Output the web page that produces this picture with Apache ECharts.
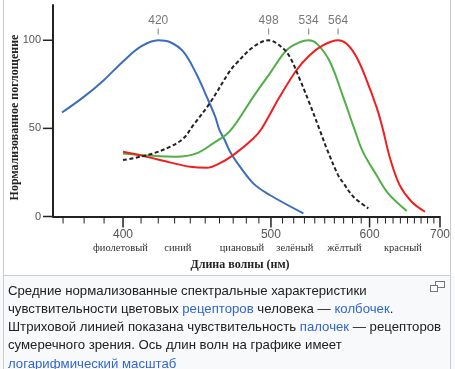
<!DOCTYPE html>
<html><head><meta charset="utf-8">
<script src="https://cdn.jsdelivr.net/npm/echarts@6/dist/echarts.min.js"></script>
<style>
html,body{margin:0;padding:0;background:#fff;}
#wrap{position:relative;width:455px;height:369px;overflow:hidden;background:#f8f9fa;}
#chart{position:absolute;left:0;top:0;width:455px;height:275px;background:#fff;}
#frame{position:absolute;left:3px;top:0;width:446px;height:369px;border-left:1px solid #c8ccd1;border-right:1px solid #c8ccd1;pointer-events:none;}
#sep{position:absolute;left:3px;top:275px;width:447px;height:1px;background:#c8ccd1;}
#cap{position:absolute;left:8px;top:281.5px;font-family:"Liberation Sans",Arial,sans-serif;font-size:13.2px;line-height:18.3px;color:#202122;white-space:nowrap;}
#cap a{color:#3366cc;text-decoration:none;}
#mag{position:absolute;left:430px;top:281px;}
</style></head>
<body>
<div id="wrap">
  <div id="chart"></div>
  <div id="sep"></div>
  <div id="frame"></div>
  <svg id="mag" width="15" height="11" viewBox="0 0 15 11"><rect x="5.5" y="0.5" width="9" height="6" fill="#fff" stroke="#777"/><rect x="0.5" y="4.5" width="7" height="6" fill="#fff" stroke="#777"/></svg>
  <div id="cap">Средние нормализованные спектральные характеристики<br>чувствительности цветовых <a>рецепторов</a> человека — <a>колбочек</a>.<br>Штриховой линией показана чувствительность <a>палочек</a> — рецепторов<br>сумеречного зрения. Ось длин волн на графике имеет<br><a>логарифмический масштаб</a></div>
</div>
<script>
// wavelengths (nm) and normalized absorption values
const blueL = [369.5, 380, 390, 400, 410, 420, 427, 435.5, 444, 451, 457, 460, 464, 467.5, 472.5, 485.5, 499, 529];
const blueV = [59, 68, 77.5, 88, 96.5, 100, 99, 93.5, 81, 68, 56.5, 49, 43, 37, 31, 18.8, 12.2, 1.8];
const rodL = [400, 409.5, 417, 427, 435.5, 442, 453, 467.5, 472.5, 485.5, 498, 509, 516.5, 526, 535, 545, 552, 564, 570, 581, 598.5];
const rodV = [32, 33.9, 35.8, 39.5, 44.3, 51.8, 64.1, 82.5, 87, 96.2, 100, 96.2, 90.5, 77.3, 64.1, 49, 38.6, 23.5, 18.8, 11.2, 4.6];
const greenL = [400, 417, 431, 444, 455.5, 467.5, 485.5, 499, 513.5, 526, 534, 542, 555, 569.5, 582.5, 592, 608.5, 623.5, 649];
const greenV = [35.8, 34.4, 33.9, 35.8, 41.5, 48.4, 67.9, 81.1, 94.3, 99, 100, 98.1, 88.2, 67.9, 49, 36.7, 23.5, 13.1, 3.1];
const redL = [400, 411, 427, 440, 451, 460, 470, 485.5, 492.5, 507.5, 522.5, 535, 548.5, 564, 573, 584.5, 596.5, 608.5, 616, 626, 639, 656, 676];
const redV = [36.7, 34.4, 30.7, 28.2, 27.6, 30.1, 34.8, 44.3, 50.1, 67.9, 83, 91.5, 97.2, 100, 98.1, 90.5, 77.3, 62.2, 50.7, 33, 17.8, 8.4, 2.7];

const peaks = [420, 498, 534, 564];
const majorTicks = [400, 500, 600, 700];
const minorTicks = [370,380,390,410,420,430,440,450,460,470,480,490,510,520,530,540,550,560,570,580,590,610,620,630,640,650,660,670,680,690];
const yTicks = [0, 50, 100];
const bandNames = ['фиолетовый', 'синий', 'циановый', 'зелёный', 'жёлтый', 'красный'];
const bandPos = [398.6, 432, 476.6, 521, 571, 643.5];
const curveLetters = ['К', 'П', 'С', 'Д'];
const letterL = [497, 582.7, 622, 657.8];
const letterV = [19, 19, 19, 20];

const toX = l => 1e5 / l;     // reciprocal wavelength scale
const pairs = (ls, vs) => ls.map((l, i) => [toX(l), vs[i]]);
const near = (arr, v) => arr.findIndex(a => Math.abs(toX(a) - v) < 1e-6);

const SERIF = '"Liberation Serif", "DejaVu Serif", serif';
const SANS = '"Liberation Sans", Arial, sans-serif';
const xBase = { type: 'value', gridIndex: 0, position: 'bottom', min: toX(700), max: toX(365.4), inverse: true, splitLine: { show: false }, axisTick: { show: false } };

// tick marks drawn through the axes' own scales
function xTickSeries(ticks, len, w) {
  return { type: 'custom', clip: false, silent: true, z: 5,
    data: ticks.map(t => [toX(t), 0]),
    renderItem: (params, api) => {
      const p = api.coord([api.value(0), 0]);
      return { type: 'line', shape: { x1: p[0], y1: p[1] + 1, x2: p[0], y2: p[1] + 1 + len }, style: { stroke: '#222', lineWidth: w } };
    } };
}
function yTickSeries(ticks, len, w) {
  return { type: 'custom', clip: false, silent: true, z: 5,
    data: ticks.map(t => [toX(365.4), t]),
    renderItem: (params, api) => {
      const p = api.coord([api.value(0), api.value(1)]);
      return { type: 'line', shape: { x1: p[0] - 1, y1: p[1], x2: p[0] - 1 - len, y2: p[1] }, style: { stroke: '#222', lineWidth: w } };
    } };
}

const chart = echarts.init(document.getElementById('chart'));
chart.setOption({
  animation: false,
  backgroundColor: '#fff',
  grid: { left: 53, right: 15, top: 5, bottom: 58.5 },
  xAxis: [
    Object.assign({}, xBase, {
      axisLine: { show: true, onZero: false, lineStyle: { color: '#222', width: 2 } },
      axisLabel: { show: false }
    }),
    Object.assign({}, xBase, {
      axisLine: { show: false, onZero: false },
      axisLabel: { show: true, customValues: majorTicks.map(toX), margin: 12, color: '#555', fontSize: 12, fontFamily: SANS,
        formatter: v => String(majorTicks[near(majorTicks, v)]) }
    }),
    Object.assign({}, xBase, {
      axisLine: { show: false, onZero: false },
      axisLabel: { show: true, customValues: bandPos.map(toX), margin: 26, color: '#333', fontSize: 10.5, fontFamily: SERIF,
        formatter: v => bandNames[near(bandPos, v)] }
    })
  ],
  yAxis: {
    type: 'value', min: 0, max: 120, splitLine: { show: false },
    axisLine: { show: true, onZero: false, lineStyle: { color: '#222', width: 2 } },
    axisTick: { show: false },
    axisLabel: { show: true, customValues: yTicks, margin: 12, color: '#555', fontSize: 11, fontFamily: SANS }
  },
  graphic: [
    { type: 'text', x: 15, y: 117.5, rotation: Math.PI / 2,
      style: { text: 'Нормализованное поглощение', fontFamily: SERIF, fontWeight: 'bold', fontSize: 12, fill: '#222', align: 'center', verticalAlign: 'middle' } },
    { type: 'text', x: 240, y: 265,
      style: { text: 'Длина волны (нм)', fontFamily: SERIF, fontWeight: 'bold', fontSize: 12, fill: '#222', align: 'center', verticalAlign: 'middle' } }
  ],
  series: [
    { type: 'line', data: pairs(blueL, blueV), smooth: 0.35, symbol: 'none', lineStyle: { color: '#3c6ebe', width: 2 } },
    { type: 'line', data: pairs(greenL, greenV), smooth: 0.35, symbol: 'none', lineStyle: { color: '#50af46', width: 2 } },
    { type: 'line', data: pairs(redL, redV), smooth: 0.35, symbol: 'none', lineStyle: { color: '#f01e1e', width: 2 } },
    { type: 'line', data: pairs(rodL, rodV), smooth: 0.35, symbol: 'none', lineStyle: { color: '#222', width: 2, type: [4, 2.5] } },
    { type: 'scatter', data: peaks.map(p => [toX(p), 105]), symbol: 'rect', symbolSize: [1.2, 6], itemStyle: { color: '#777' },
      label: { show: true, position: 'top', distance: 2, color: '#555', fontSize: 12, fontFamily: SANS, formatter: p => String(peaks[p.dataIndex]) } },
    { type: 'scatter', symbolSize: 1, itemStyle: { opacity: 0 },
      data: curveLetters.map((t, i) => ({ value: [toX(letterL[i]), letterV[i]], label: { color: ['#3c6ebe', '#222', '#50af46', '#f01e1e'][i] } })),
      label: { show: true, position: 'inside', fontFamily: SERIF, fontWeight: 'bold', fontSize: 14, formatter: p => curveLetters[p.dataIndex] } },
    xTickSeries(minorTicks, 6, 1),
    xTickSeries(majorTicks, 10, 1.5),
    yTickSeries(yTicks, 9, 1.5)
  ]
});
</script>
</body></html>
